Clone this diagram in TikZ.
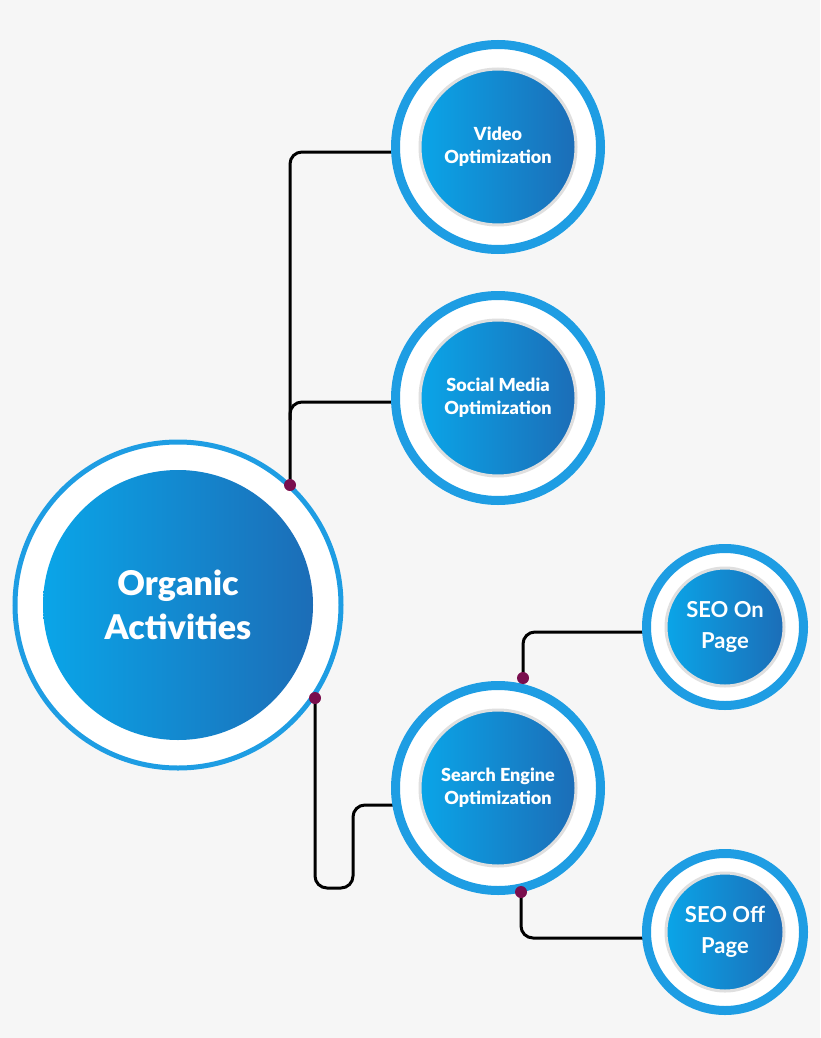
\documentclass[tikz,border=0pt]{standalone}
\usepackage{fontspec}
\setmainfont{Lato}[UprightFont=* Bold]
\begin{document}
\begin{tikzpicture}[x=1pt,y=-1pt,
 ring/.style={circle,fill=white,draw=ringc,line width=9pt,inner sep=0pt},
 disk/.style={circle,inner sep=0pt,left color=diskl,right color=diskr,draw=gray!25,line width=3pt,text=white,align=center,font=\fontsize{18}{23}\selectfont\bfseries},
 wire/.style={line width=3pt,black,rounded corners=12pt},
 dot/.style={circle,fill=dotc,inner sep=0pt,minimum size=12pt}]
\definecolor{ringc}{HTML}{1E9DE3}
\definecolor{diskl}{HTML}{0AA5E8}
\definecolor{diskr}{HTML}{1C6DB7}
\definecolor{dotc}{HTML}{7A0E4E}
\definecolor{bg}{HTML}{F6F6F6}
\fill[bg] (0,0) rectangle (820,1038);
\useasboundingbox (0,0) rectangle (820,1038);
% connectors
\coordinate (d1) at (290,485);
\coordinate (d2) at (315,698);
\coordinate (d3) at (523,678);
\coordinate (d4) at (521,892);
\draw[wire] (d1) -- (290,152) -- (400,152);
\draw[wire] (290,420) -- (290,402) -- (400,402);
\draw[wire] (d2) -- (315,888) -- (353,888) -- (353,805) -- (400,805);
\draw[wire] (d3) -- (523,632) -- (650,632);
\draw[wire] (d4) -- (521,938) -- (650,938);
% big
\node[circle,fill=white,draw=ringc,line width=5pt,minimum size=326pt] (oa) at (178,605) {};
\node[disk,minimum size=270pt,font=\fontsize{34}{44}\selectfont\bfseries,draw=none] at (178,605) {Organic\\Activities};
\foreach \n/\x/\y/\t in {v/498/147/{Video\\Optimization},s/498/398/{Social Media\\Optimization},se/498/788/{Search Engine\\Optimization}}{
 \node[ring,minimum size=205pt] (\n) at (\x,\y) {};
 \node[disk,minimum size=156pt] at (\x,\y) {\t};
}
\foreach \n/\x/\y/\t in {on/725/627/{SEO On\\Page},off/725/932/{SEO Off\\Page}}{
 \node[ring,minimum size=157pt] (\n) at (\x,\y) {};
 \node[disk,minimum size=118pt,font=\fontsize{22}{31}\selectfont] at (\x,\y) {\t};
}
\foreach \d in {d1,d2,d3,d4} \node[dot] at (\d) {};
\end{tikzpicture}
\end{document}
